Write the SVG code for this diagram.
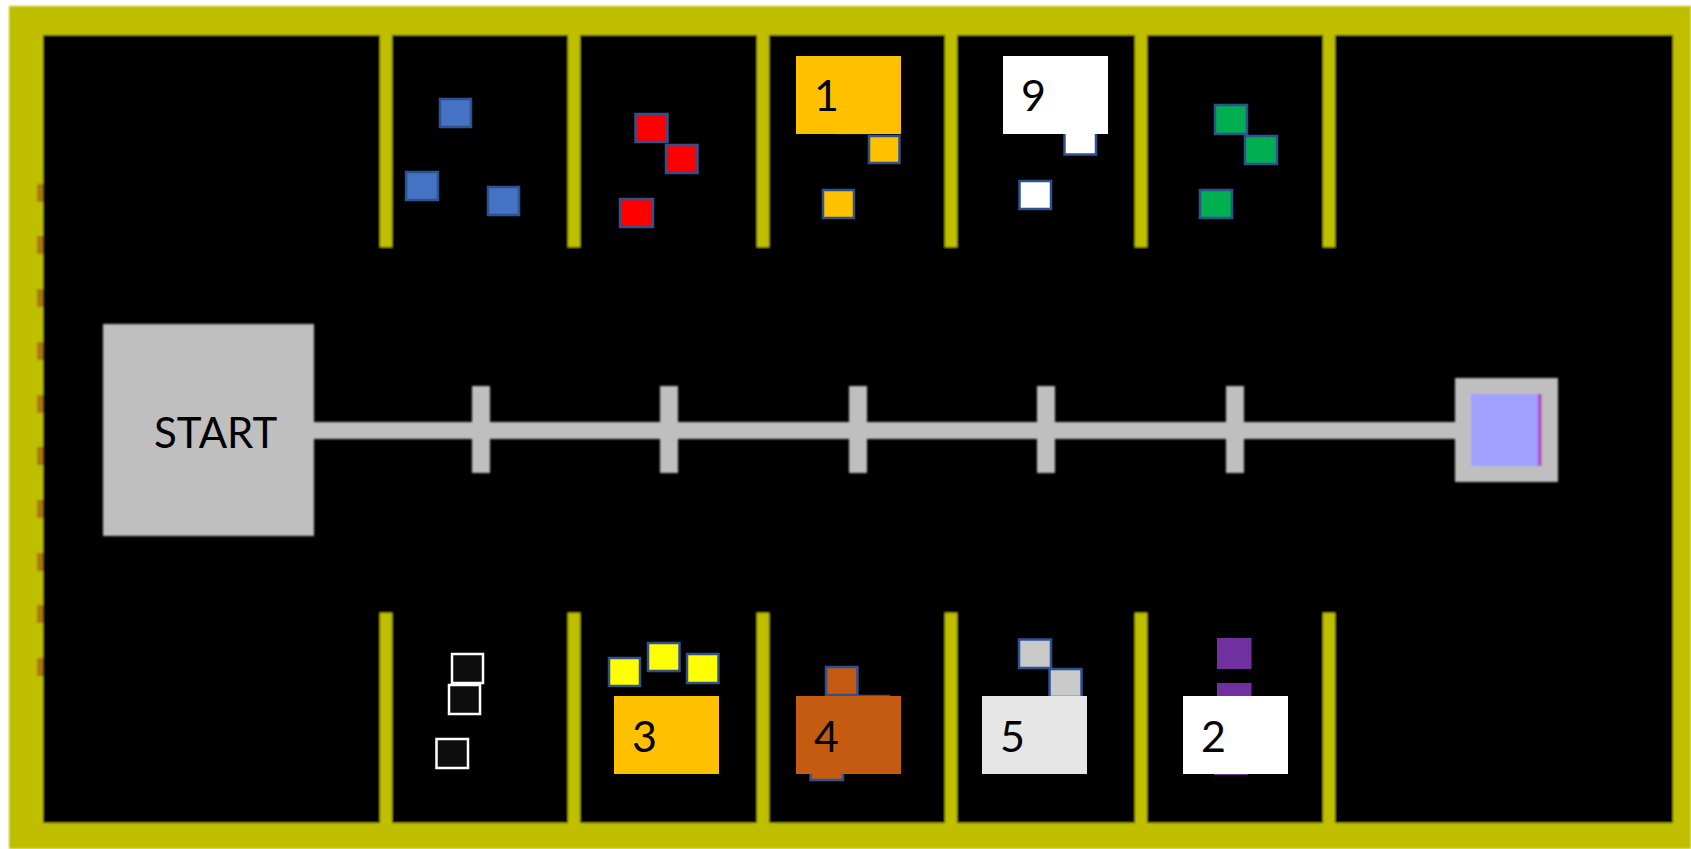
<svg xmlns="http://www.w3.org/2000/svg" width="1691" height="849" viewBox="0 0 1691 849">
<defs>
<style>
.sq{stroke:#2F528F;stroke-width:2.5}
.blue{fill:#4472C4}.red{fill:#FF0000}.org{fill:#FFC000}.wht{fill:#FFFFFF}.grn{fill:#00B050}
.blk{fill:#0D0D0D;stroke:#FFFFFF;stroke-width:2.5}.yel{fill:#FFFF00}.brn{fill:#C55A11}.gry{fill:#C9C9C9}.pur{fill:#7030A0}
.lbl{font-family:Lato,"Liberation Sans",sans-serif;font-size:43px;fill:#000}
.wall{fill:#BFBF00}
.track{fill:#BFBFBF}
</style>
<filter id="soft" x="-5%" y="-5%" width="110%" height="110%"><feGaussianBlur stdDeviation="1"/></filter>
</defs>
<rect width="1691" height="849" fill="#FFFFFF"/>
<g id="arena" filter="url(#soft)">
<rect class="wall" x="9" y="6" width="1682" height="843"/>
<g fill="#A87808">
<rect x="37" y="184" width="7" height="18"/><rect x="37" y="236" width="7" height="18"/>
<rect x="37" y="289" width="7" height="18"/><rect x="37" y="342" width="7" height="18"/>
<rect x="37" y="395" width="7" height="18"/><rect x="37" y="447" width="7" height="18"/>
<rect x="37" y="500" width="7" height="18"/><rect x="37" y="553" width="7" height="18"/>
<rect x="37" y="605" width="7" height="18"/><rect x="37" y="658" width="7" height="18"/>
</g>
<rect x="43" y="35" width="1630" height="788" fill="#000000"/>
<g class="wall">
<rect x="380" y="30" width="12" height="217"/><rect x="568" y="30" width="12" height="217"/>
<rect x="757" y="30" width="12" height="217"/><rect x="945" y="30" width="12" height="217"/>
<rect x="1135" y="30" width="12" height="217"/><rect x="1323" y="30" width="12" height="217"/>
<rect x="380" y="613" width="12" height="215"/><rect x="568" y="613" width="12" height="215"/>
<rect x="757" y="613" width="12" height="215"/><rect x="945" y="613" width="12" height="215"/>
<rect x="1135" y="613" width="12" height="215"/><rect x="1323" y="613" width="12" height="215"/>
</g>
</g>
<g id="connectors" filter="url(#soft)">
<rect class="track" x="310" y="422" width="1150" height="17"/>
<rect class="track" x="472" y="386" width="18" height="87"/>
<rect class="track" x="660" y="386" width="18" height="87"/>
<rect class="track" x="849" y="386" width="18" height="87"/>
<rect class="track" x="1037" y="386" width="18" height="87"/>
<rect class="track" x="1226" y="386" width="18" height="87"/>
</g>
<g id="start">
<rect x="103" y="324" width="211" height="212" fill="#BFBFBF" filter="url(#soft)"/>
<text class="lbl" x="154" y="448" style="font-size:42px">START</text>
</g>
<g id="finish" filter="url(#soft)">
<rect x="1455" y="378" width="103" height="104" fill="#BFBFBF"/>
<rect x="1471" y="394" width="70" height="72" fill="#A0A0FF"/>
<rect x="1538" y="394" width="3.5" height="72" fill="#B040C0"/>
</g>
<g id="bay-blue">
<rect class="sq blue" x="440" y="99" width="31" height="28"/>
<rect class="sq blue" x="406" y="172" width="32" height="28"/>
<rect class="sq blue" x="488" y="187" width="31" height="28"/>
</g>
<g id="bay-red">
<rect class="sq red" x="635.5" y="114" width="32" height="28"/>
<rect class="sq red" x="666" y="145" width="31.5" height="28"/>
<rect class="sq red" x="620" y="199" width="33" height="28"/>
</g>
<g id="bay-orange">
<rect class="sq org" x="838" y="105" width="31" height="28"/>
<rect class="sq org" x="869" y="136" width="30.5" height="27"/>
<rect class="sq org" x="823" y="190" width="31" height="28"/>
</g>
<g id="label-1">
<rect x="796" y="56" width="105" height="78" fill="#FFC000"/>
<text class="lbl" x="814" y="111">1</text>
</g>
<g id="bay-white">
<rect class="sq wht" x="1064.5" y="126" width="31.5" height="28.5"/>
<rect class="sq wht" x="1019.5" y="181" width="31.5" height="28"/>
</g>
<g id="label-9">
<rect x="1003" y="56" width="105" height="78" fill="#FFFFFF"/>
<text class="lbl" x="1021" y="111">9</text>
</g>
<g id="bay-green">
<rect class="sq grn" x="1215" y="105" width="32" height="29"/>
<rect class="sq grn" x="1245" y="136" width="32" height="28"/>
<rect class="sq grn" x="1200" y="190" width="32" height="28"/>
</g>
<g id="bay-black">
<rect class="blk" x="452" y="654" width="31" height="29"/>
<rect class="blk" x="449" y="685" width="31" height="29"/>
<rect class="blk" x="436.5" y="739" width="31.5" height="29"/>
</g>
<g id="bay-yellow">
<rect class="sq yel" x="609" y="658" width="31" height="28"/>
<rect class="sq yel" x="648" y="643" width="31.5" height="28"/>
<rect class="sq yel" x="687" y="654" width="31.5" height="29"/>
</g>
<g id="label-3">
<rect x="614" y="696" width="105" height="78" fill="#FFC000"/>
<text class="lbl" x="632" y="751.5">3</text>
</g>
<g id="bay-brown">
<rect class="sq brn" x="826" y="667" width="31.5" height="28"/>
<rect class="sq brn" x="859" y="696" width="30" height="28"/>
<rect class="sq brn" x="810.5" y="752" width="32.5" height="28"/>
</g>
<g id="label-4">
<rect x="796" y="696" width="105" height="78" fill="#C55A11"/>
<text class="lbl" x="814" y="751.5">4</text>
</g>
<g id="bay-grey">
<rect class="sq gry" x="1019" y="639.5" width="32" height="28.5"/>
<rect class="sq gry" x="1049.5" y="669" width="32" height="28"/>
</g>
<g id="label-5">
<rect x="982" y="696" width="105" height="78" fill="#E6E6E6"/>
<text class="lbl" x="1000" y="751.5">5</text>
</g>
<g id="bay-purple">
<rect class="pur" x="1217" y="638" width="34.5" height="31"/>
<rect class="pur" x="1217" y="683" width="34.5" height="31"/>
<rect class="pur" x="1214" y="745" width="34" height="30"/>
</g>
<g id="label-2">
<rect x="1183" y="696" width="105" height="78" fill="#FFFFFF"/>
<text class="lbl" x="1201" y="751.5">2</text>
</g>
</svg>
